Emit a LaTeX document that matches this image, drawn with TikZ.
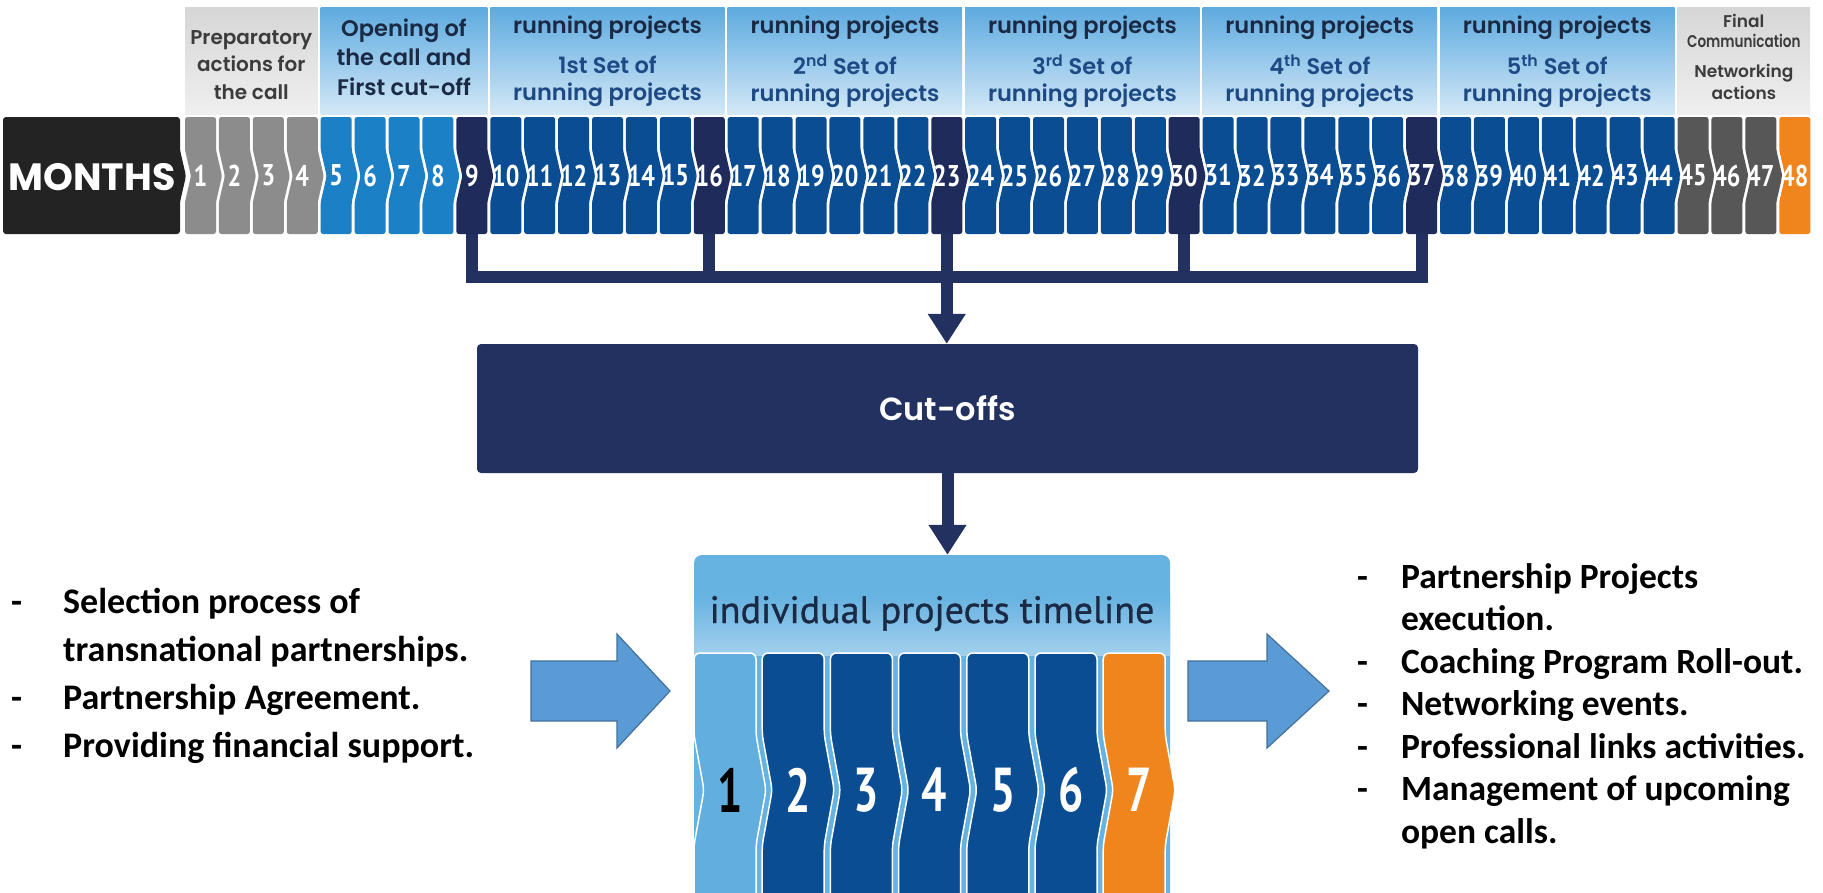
\documentclass[tikz,border=0pt]{standalone}
\usepackage{fontspec}
\usepackage{graphicx}
\usetikzlibrary{positioning,arrows.meta}
\setmainfont{Carlito}
\newfontfamily\gothfont{Poppins}
\newfontfamily\gothsemi{Poppins SemiBold}
\newfontfamily\gothmed{Poppins Medium}
\newfontfamily\numfont{PT Sans Bold}[FakeStretch=0.8]
\newfontfamily\bignumfont{PT Sans Bold}[FakeStretch=0.72]
\newfontfamily\titlefont{PT Sans}[FakeBold=0.9]

\definecolor{mgray}{HTML}{8C8C8C}
\definecolor{mlight}{HTML}{1C80C6}
\definecolor{mnavy}{HTML}{1F2B5B}
\definecolor{mblue}{HTML}{0B4D93}
\definecolor{mdark}{HTML}{575757}
\definecolor{morange}{HTML}{EF851C}
\definecolor{mblack}{HTML}{232323}
\definecolor{bluetop}{HTML}{5DAAE0}
\definecolor{bluebot}{HTML}{D3E8F6}
\definecolor{graytop}{HTML}{D6D6D6}
\definecolor{graybot}{HTML}{EFEFEF}
\definecolor{cnavy}{HTML}{22315F}
\definecolor{tltop}{HTML}{66B2E0}
\definecolor{tlbot}{HTML}{A2D0EE}
\definecolor{tlone}{HTML}{62AEDE}
\definecolor{arrowfill}{HTML}{5B9BD5}
\definecolor{arrowline}{HTML}{41719C}
\definecolor{hdrdark}{HTML}{1B2A44}
\definecolor{hdrblue}{HTML}{1D4A84}
\definecolor{hdrgraytext}{HTML}{3C3C3C}

% one month of the top timeline: index, colour, depth of the right point
\newcommand{\monthcell}[3]{%
  \pgfmathsetmacro{\cellL}{185+(#1-1)*33.92}%
  \pgfmathsetmacro{\cellR}{\cellL+31}%
  \fill[#2, rounded corners=2.5pt] (\cellL,117) -- (\cellR,117) -- (\cellR,150)
    -- (\cellR+#3,176) -- (\cellR,202) -- (\cellR,234) -- (\cellL,234)
    -- (\cellL,202) -- (\cellL+6,176) -- (\cellL,150) -- cycle;
  \node[mnum] (m#1) at (\cellL+15.5,175.5) {#1};
}
% one step of the individual projects timeline: index, colour, text colour
\newcommand{\stepcell}[3]{%
  \pgfmathsetmacro{\cellL}{694+(#1-1)*68.2}%
  \pgfmathsetmacro{\cellR}{\cellL+62}%
  \filldraw[fill=#2, draw=white, line width=1.5pt, rounded corners=6pt]
    (\cellL,653) -- (\cellR,653) -- (\cellR,735) -- (\cellR+10,790)
    -- (\cellR,845) -- (\cellR,905) -- (\cellL,905) -- (\cellL,845)
    -- (\cellL+10,790) -- (\cellL,735) -- cycle;
  \node[tlnum, text=#3] (t#1) at (\cellL+36,790) {#1};
}

\begin{document}
\begin{tikzpicture}[x=1pt,y=-1pt]
        % Define styles
        \tikzset{
            mnum/.style={minimum width=31pt, minimum height=117pt, inner sep=0pt,
                text=white, font=\numfont\fontsize{30}{30}\selectfont},
            hdr/.style={top color=#1top, bottom color=#1bot},
            prephdr/.style={align=center, text=hdrgraytext, font=\gothsemi\fontsize{20}{27.5}\selectfont},
            openhdr/.style={align=center, text=hdrdark, font=\gothsemi\fontsize{22.5}{29.5}\selectfont},
            runhdr/.style={text=hdrdark, font=\gothsemi\fontsize{22.5}{27}\selectfont},
            sethdr/.style={align=center, text=hdrblue, font=\gothsemi\fontsize{22.5}{27}\selectfont},
            finhdr/.style={align=center, text=hdrgraytext, font=\gothsemi\fontsize{17}{22}\selectfont},
            cutline/.style={draw=cnavy, line width=12pt},
            cutarrow/.style={cutline, -{Triangle[width=36pt,length=30pt]}},
            cutbox/.style={fill=cnavy, rounded corners=4pt, minimum width=941pt,
                minimum height=129pt, text=white, font=\gothsemi\fontsize{32}{32}\selectfont},
            tlbox/.style={fill=tltop, rounded corners=8pt, minimum width=476pt, minimum height=350pt},
            tltitle/.style={inner sep=0pt, text=hdrdark, font=\titlefont\fontsize{38}{38}\selectfont},
            tlnum/.style={inner sep=0pt, font=\bignumfont\fontsize{62}{62}\selectfont},
            blockarrow/.style={fill=arrowfill, draw=arrowline, line width=1.2pt},
            listtext/.style={inner sep=0pt, anchor=base west}
        }
        \useasboundingbox (0,0) rectangle (1823,892);
        \fill[white] (0,0) rectangle (1823,892);
        % Header boxes over the months
        \foreach \a/\b/\hc in {1/4/gray, 5/9/blue, 10/16/blue, 17/23/blue, 24/30/blue,
                31/37/blue, 38/44/blue, 45/48/gray} {
            \pgfmathsetmacro{\hl}{185+(\a-1)*33.92}
            \pgfmathsetmacro{\hr}{185+\b*33.92-3}
            \shade[hdr=\hc] (\hl,7) rectangle (\hr,114);
        }
        \node[prephdr] (prep) at (251.3,65) {Preparatory\\actions for\\the call};
        \node[openhdr] (open) at (404,57) {Opening of\\the call and\\First cut-off};
        \foreach \x/\n/\s in {607.5/1/1st, 845/2/2\textsuperscript{nd}, 1082.4/3/3\textsuperscript{rd},
                1319.8/4/4\textsuperscript{th}, 1557.2/5/5\textsuperscript{th}} {
            \node[runhdr] (run\n) at (\x,28) {running projects};
            \node[sethdr] (set\n) at (\x,81) {\s\ Set of\\running projects};
        }
        \node[finhdr] (final) at (1743.8,21) {Final};
        \node[finhdr] (comm) at (1743.8,41) {\scalebox{0.8}[1]{Communication}};
        \node[finhdr] (netw) at (1743.8,82) {Networking\\actions};
        % MONTHS label
        \fill[mblack, rounded corners=3pt] (3,117) -- (180,117) -- (180,150) -- (186,176)
            -- (180,202) -- (180,234) -- (3,234) -- cycle;
        \node[text=white, font=\gothfont\bfseries\fontsize{38}{38}\selectfont] (months) at (92,177) {MONTHS};
        % The 48 months
        \foreach \i in {1,...,4} {\monthcell{\i}{mgray}{6}}
        \foreach \i in {5,...,8} {\monthcell{\i}{mlight}{6}}
        \foreach \i in {9,16,23,30,37} {\monthcell{\i}{mnavy}{6}}
        \foreach \s in {10,17,24,31,38} {
            \foreach \k in {0,...,5} {\pgfmathtruncatemacro{\i}{\s+\k}\monthcell{\i}{mblue}{6}}
        }
        \monthcell{44}{mblue}{6}
        \foreach \i in {45,46,47} {\monthcell{\i}{mdark}{6}}
        \monthcell{48}{morange}{0}
        % Cut-offs box and its connectors
        \node[cutbox] (cut) at (947.5,408.5) {Cut-offs};
        \draw[cutline] (m9.south) -- ++(0,43) -| (m37.south);
        \foreach \i in {16,30} \draw[cutline] (m\i.south) -- ++(0,43);
        \draw[cutarrow] (m23.south) -- (m23.south |- cut.north);
        % Individual projects timeline
        \node[tlbox] (tl) at (932,730) {};
        \shade[top color=tltop, bottom color=tlbot] (694,595) rectangle (1170,655);
        \node[tltitle, anchor=base] (tltext) at (932,623) {individual projects timeline};
        \stepcell{1}{tlone}{black}
        \foreach \k in {2,...,6} {\stepcell{\k}{mblue}{white}}
        \stepcell{7}{morange}{white}
        \draw[cutarrow] (cut.south) -- (cut.south |- tl.north);
        % Block arrows in and out
        \draw[blockarrow] (531,661) -- (617,661) -- (617,634) -- (670,691) -- (617,748)
            -- (617,721) -- (531,721) -- cycle;
        \draw[blockarrow] (1188,661) -- (1267,661) -- (1267,634) -- (1329,691) -- (1267,748)
            -- (1267,721) -- (1188,721) -- cycle;
        % Lists of actions
        \node[listtext, font=\bfseries\fontsize{36}{48}\selectfont] (inlist) at (11,613) {%
            \begin{tabular}[t]{@{}l@{\hspace{41pt}}l@{}}
            - & Selection process of\\
              & transnational partnerships.\\
            - & Partnership Agreement.\\
            - & Providing financial support.
            \end{tabular}};
        \node[listtext, font=\bfseries\fontsize{35.5}{42.5}\selectfont] (outlist) at (1357,588) {%
            \begin{tabular}[t]{@{}l@{\hspace{33pt}}l@{}}
            - & Partnership Projects\\
              & execution.\\
            - & Coaching Program Roll-out.\\
            - & Networking events.\\
            - & Professional links activities.\\
            - & Management of upcoming\\
              & open calls.
            \end{tabular}};
\end{tikzpicture}
\end{document}
